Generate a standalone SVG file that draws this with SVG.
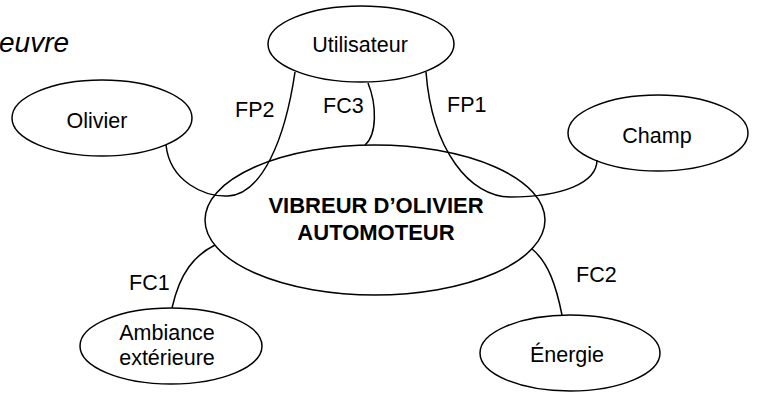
<svg xmlns="http://www.w3.org/2000/svg" width="760" height="394" viewBox="0 0 760 394">
  <style>
    .node { fill: none; stroke: #000; stroke-width: 1.5; }
    .link { fill: none; stroke: #000; stroke-width: 1.5; }
    text { font-family: "Liberation Sans", Arial, sans-serif; font-size: 21.5px; fill: #000; }
    .c { text-anchor: middle; }
    .b { font-weight: bold; font-size: 22px; }
    .title { font-style: italic; font-size: 28px; }
  </style>
  <rect width="760" height="394" fill="#fff"/>

  <text class="title" x="-1" y="52">euvre</text>

  <!-- functions linking the product to its surroundings -->
  <g id="connectors">
    <path class="link" d="M166,145 C170,182 205,197 228,196 C262,194 285,140 295,72"/>
    <path class="link" d="M426,72 C432,150 470,197 510,197 C562,197 597,183 597,160"/>
    <path class="link" d="M368,83 C377,105 377,135 365,145"/>
    <path class="link" d="M215,245 C195,255 180,272 172,308"/>
    <path class="link" d="M532,249 C548,262 556,285 562,315"/>
    <text x="235" y="117">FP2</text>
    <text x="323" y="113">FC3</text>
    <text x="447" y="112">FP1</text>
    <text x="129" y="290">FC1</text>
    <text x="576" y="282">FC2</text>
  </g>

  <g id="vibreur">
    <ellipse class="node" cx="375" cy="220" rx="170" ry="75"/>
    <text class="c b" x="376" y="213">VIBREUR D’OLIVIER</text>
    <text class="c b" x="376" y="240">AUTOMOTEUR</text>
  </g>
  <g id="utilisateur">
    <ellipse class="node" cx="361" cy="44" rx="93" ry="38"/>
    <text class="c" x="360" y="52">Utilisateur</text>
  </g>
  <g id="olivier">
    <ellipse class="node" cx="102" cy="118" rx="90" ry="38"/>
    <text class="c" x="97" y="128">Olivier</text>
  </g>
  <g id="champ">
    <ellipse class="node" cx="658" cy="133" rx="90" ry="38"/>
    <text class="c" x="657" y="143">Champ</text>
  </g>
  <g id="ambiance">
    <ellipse class="node" cx="171" cy="346" rx="91" ry="38"/>
    <text class="c" x="167" y="340">Ambiance</text>
    <text class="c" x="167" y="365">extérieure</text>
  </g>
  <g id="energie">
    <ellipse class="node" cx="570" cy="353" rx="90" ry="38"/>
    <text class="c" x="567" y="362">Énergie</text>
  </g>
</svg>
